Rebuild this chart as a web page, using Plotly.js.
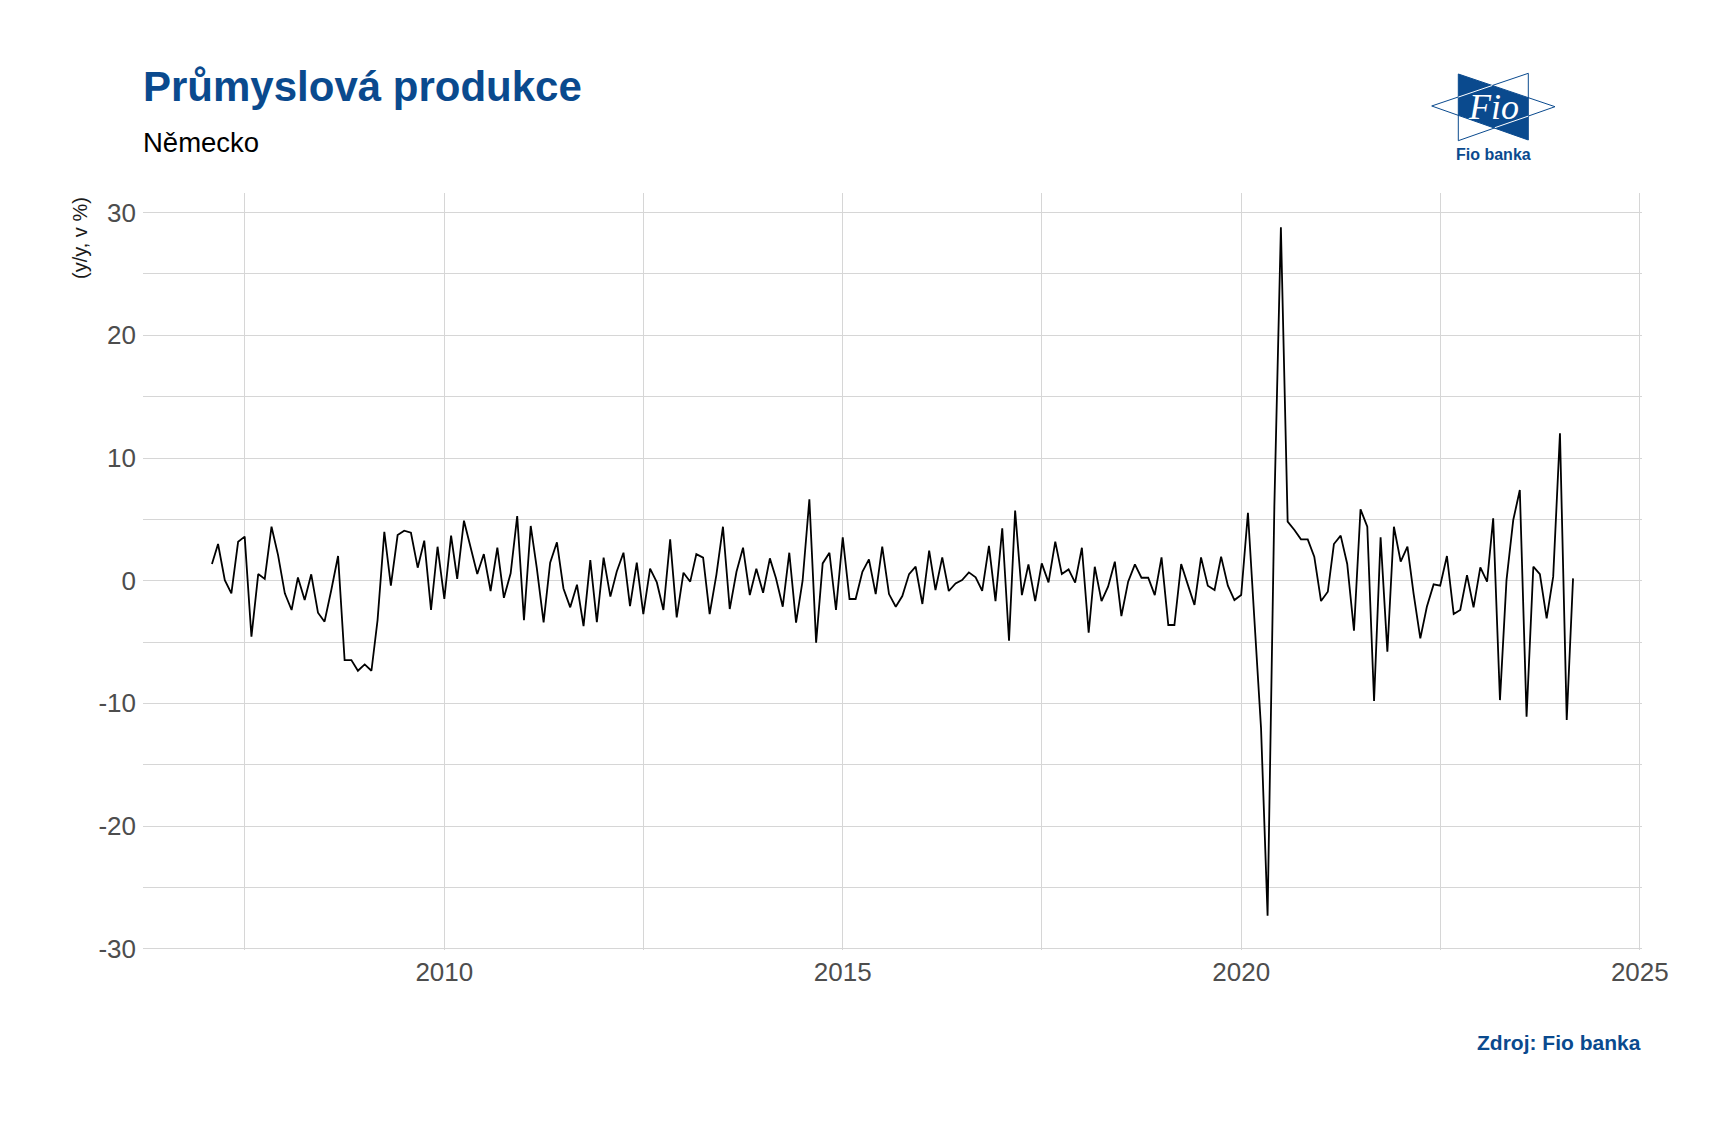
<!DOCTYPE html>
<html>
<head>
<meta charset="utf-8">
<script src="https://cdn.plot.ly/plotly-3.0.1.min.js"></script>
<style>
  html, body { margin: 0; padding: 0; background: #ffffff; }
  #chart { width: 1711px; height: 1123px; }
</style>
</head>
<body>
<div id="chart"></div>
<script>
// ---- Data: monthly values (y/y, %), Germany industrial production ----
const startMonth = [2007, 2]; // first observation: Feb 2007
const v2007 = [1.36, 2.99, 0.05, -1.03, 3.18, 3.59, -4.57, 0.54, 0.14, 4.40, 2.09];
const v2008 = [-1.03, -2.39, 0.27, -1.58, 0.52, -2.61, -3.34, -0.76, 2.01, -6.47, -6.47, -7.34];
const v2009 = [-6.82, -7.34, -3.21, 3.99, -0.41, 3.72, 4.08, 3.91, 1.06, 3.26, -2.39, 2.77];
const v2010 = [-1.49, 3.67, 0.14, 4.89, 2.8, 0.54, 2.17, -0.84, 2.69, -1.39, 0.60, 5.27];
const v2011 = [-3.21, 4.46, 1.0, -3.40, 1.47, 3.13, -0.63, -2.17, -0.33, -3.70, 1.68, -3.37];
const v2012 = [1.88, -1.30, 0.73, 2.28, -2.07, 1.47, -2.72, 0.98, -0.14, -2.39, 3.37, -2.99];
const v2013 = [0.65, -0.08, 2.17, 1.88, -2.72, 0.5, 4.40, -2.31, 0.73, 2.69, -1.17, 0.98];
const v2014 = [-0.98, 1.82, 0.2, -2.12, 2.28, -3.42, 0.0, 6.63, -5.05, 1.41, 2.28, -2.39];
const v2015 = [3.53, -1.49, -1.49, 0.73, 1.74, -1.09, 2.77, -1.09, -2.12, -1.25, 0.54, 1.14];
const v2016 = [-1.90, 2.45, -0.76, 1.90, -0.84, -0.22, 0.05, 0.68, 0.27, -0.82, 2.83, -1.66];
const v2017 = [4.27, -4.89, 5.71, -1.17, 1.33, -1.66, 1.41, -0.14, 3.18, 0.54, 0.92, -0.16];
const v2018 = [2.69, -4.24, 1.14, -1.66, -0.49, 1.55, -2.88, -0.08, 1.33, 0.24, 0.24, -1.17];
const v2019 = [1.90, -3.61, -3.61, 1.36, -0.3, -1.98, 1.90, -0.41, -0.76, 1.96, -0.41, -1.58];
const v2020 = [-1.17, 5.54, -3.0, -12.0, -27.3, 6.0, 28.8, 4.81, 4.13, 3.37, 3.37, 1.96];
const v2021 = [-1.66, -0.90, 2.99, 3.67, 1.36, -4.08, 5.82, 4.40, -9.81, 3.53, -5.79, 4.40];
const v2022 = [1.55, 2.77, -1.03, -4.70, -2.12, -0.30, -0.41, 2.01, -2.72, -2.39, 0.46, -2.17];
const v2023 = [1.09, -0.08, 5.08, -9.73, 0.05, 4.95, 7.39, -11.09, 1.14, 0.54, -3.07, 0.33];
const v2024 = [12.01, -11.36, 0.19];

const yTickVals = [-30, -20, -10, 0, 10, 20, 30];
const yTickText = ['-30', '-20', '-10', '0', '10', '20', '30'];

const titleText = 'Průmyslová produkce';
const subtitleText = 'Německo';
const yTitleText = '(y/y, v %)';
const sourceText = 'Zdroj: Fio banka';

// ---- Build series ----
const values = [].concat(v2007, v2008, v2009, v2010, v2011, v2012, v2013, v2014,
  v2015, v2016, v2017, v2018, v2019, v2020, v2021, v2022, v2023, v2024);
const dates = values.map((_, i) => {
  const m0 = (startMonth[1] - 1) + i;
  const y = startMonth[0] + Math.floor(m0 / 12);
  const m = (m0 % 12) + 1;
  return y + '-' + String(m).padStart(2, '0') + '-01';
});

// ---- Pixel helpers (plot area) ----
const L = 143, R = 1642, T = 193, B = 950;
const W = R - L, H = B - T;
const px = x => (x - L) / W;
const py = y => (B - y) / H;

const BLUE = '#0a4a8e';
const FONT = 'Liberation Sans, Arial, sans-serif';

function pathPx(points, close) {
  return 'M ' + points.map(p => px(p[0]).toFixed(5) + ' ' + py(p[1]).toFixed(5)).join(' L ') + (close === false ? '' : ' Z');
}

// Fio logo geometry (pixels)
const logoLeftTri = pathPx([[1431.7, 106], [1528.3, 73.3], [1528.3, 140]]);
const logoRightTri = pathPx([[1555, 106.7], [1458.3, 74], [1458.3, 140.7]]);
const logoFill = pathPx([[1458.3, 74], [1528.3, 97.7], [1528.3, 140], [1458.3, 115.2]]);
const logoWhite1 = pathPx([[1458.3, 97.1], [1492.3, 85.5]], false);
const logoWhite2 = pathPx([[1494.8, 127.7], [1528.3, 116.1]], false);

const trace = {
  x: dates,
  y: values,
  type: 'scatter',
  mode: 'lines',
  line: { color: '#000000', width: 1.8 },
  hoverinfo: 'x+y'
};

const layout = {
  width: 1711,
  height: 1123,
  paper_bgcolor: '#ffffff',
  plot_bgcolor: '#ffffff',
  margin: { l: L, r: 1711 - R, t: T, b: 1123 - B, pad: 0 },
  showlegend: false,
  font: { family: FONT, color: '#4d4d4d' },
  xaxis: {
    type: 'date',
    range: ['2006-03-22', '2025-01-11'],
    tick0: '2010-01-01',
    dtick: 'M60',
    tickformat: '%Y',
    showgrid: true,
    gridcolor: '#d6d6d6',
    gridwidth: 1,
    minor: { dtick: 'M30', tick0: '2010-01-01', showgrid: true, gridcolor: '#d6d6d6', gridwidth: 1 },
    zeroline: false,
    showline: false,
    ticks: '',
    tickfont: { family: FONT, size: 26, color: '#4d4d4d' },
    ticklabelstandoff: 4,
    fixedrange: true
  },
  yaxis: {
    range: [-30.1, 31.6],
    tickvals: yTickVals,
    ticktext: yTickText,
    showgrid: true,
    gridcolor: '#d6d6d6',
    gridwidth: 1,
    minor: { dtick: 5, tick0: 0, showgrid: true, gridcolor: '#d6d6d6', gridwidth: 1 },
    zeroline: false,
    showline: false,
    ticks: '',
    tickfont: { family: FONT, size: 26, color: '#4d4d4d' },
    ticklabelstandoff: 6,
    fixedrange: true
  },
  shapes: [
    { type: 'path', xref: 'paper', yref: 'paper', path: logoLeftTri, fillcolor: 'rgba(0,0,0,0)', line: { color: BLUE, width: 1 }, layer: 'above' },
    { type: 'path', xref: 'paper', yref: 'paper', path: logoRightTri, fillcolor: 'rgba(0,0,0,0)', line: { color: BLUE, width: 1 }, layer: 'above' },
    { type: 'path', xref: 'paper', yref: 'paper', path: logoFill, fillcolor: BLUE, line: { width: 0 }, layer: 'above' },
    { type: 'path', xref: 'paper', yref: 'paper', path: logoWhite1, line: { color: '#ffffff', width: 1 }, layer: 'above' },
    { type: 'path', xref: 'paper', yref: 'paper', path: logoWhite2, line: { color: '#ffffff', width: 1 }, layer: 'above' }
  ],
  annotations: [
    { xref: 'paper', yref: 'paper', x: px(141), y: py(86), xanchor: 'left', yanchor: 'middle', showarrow: false,
      text: '<b>' + titleText + '</b>', font: { family: FONT, size: 42, color: BLUE } },
    { xref: 'paper', yref: 'paper', x: px(141), y: py(143), xanchor: 'left', yanchor: 'middle', showarrow: false,
      text: subtitleText, font: { family: FONT, size: 27.5, color: '#000000' } },
    { xref: 'paper', yref: 'paper', x: px(80), y: py(238), xanchor: 'center', yanchor: 'middle', showarrow: false,
      textangle: -90, text: yTitleText, font: { family: FONT, size: 20, color: '#1a1a1a' } },
    { xref: 'paper', yref: 'paper', x: px(1643), y: py(1042), xanchor: 'right', yanchor: 'middle', showarrow: false,
      text: '<b>' + sourceText + '</b>', font: { family: FONT, size: 21, color: BLUE } },
    { xref: 'paper', yref: 'paper', x: px(1493), y: py(107), xanchor: 'center', yanchor: 'middle', showarrow: false,
      text: '<i>Fio</i>', font: { family: 'Liberation Serif, Times New Roman, serif', size: 36, color: '#ffffff' } },
    { xref: 'paper', yref: 'paper', x: px(1493), y: py(154), xanchor: 'center', yanchor: 'middle', showarrow: false,
      text: '<b>Fio banka</b>', font: { family: FONT, size: 16, color: BLUE } }
  ]
};

Plotly.newPlot('chart', [trace], layout, { displayModeBar: false, staticPlot: true });
</script>
</body>
</html>
